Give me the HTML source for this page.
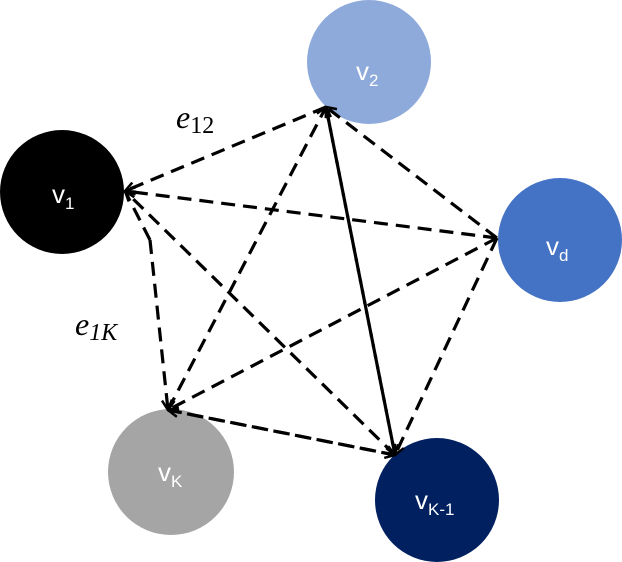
<!DOCTYPE html>
<html><head><style>body{margin:0;background:#fff}svg{display:block}</style></head><body>
<svg width="622" height="562" viewBox="0 0 622 562" xmlns="http://www.w3.org/2000/svg">
<defs><marker id="a" viewBox="0 0 12 12" refX="11" refY="6" markerWidth="12" markerHeight="12" markerUnits="userSpaceOnUse" orient="auto"><path d="M1,1 L11,6 L1,11" fill="none" stroke="#000" stroke-width="2.5"/></marker></defs>
<circle cx="62" cy="192" r="62" fill="#000"/>
<circle cx="369" cy="62" r="62" fill="#8eaadb"/>
<circle cx="560" cy="240" r="62" fill="#4472c4"/>
<circle cx="171" cy="472" r="63" fill="#a5a5a5"/>
<circle cx="437" cy="500" r="62" fill="#002060"/>
<g stroke="#000" stroke-width="3.2" stroke-dasharray="14 8" fill="none">
<line x1="326" y1="107" x2="125" y2="191" marker-end="url(#a)"/>
<line x1="497" y1="238" x2="125" y2="191" marker-end="url(#a)"/>
<line x1="395" y1="455" x2="125" y2="191" marker-end="url(#a)"/>
<line x1="150" y1="240" x2="168" y2="410" marker-end="url(#a)"/>
<line x1="150" y1="240" x2="125" y2="191"/>
<line x1="497" y1="238" x2="326" y2="107" marker-end="url(#a)"/>
<line x1="395" y1="455" x2="326" y2="107"/>
<line x1="168" y1="410" x2="326" y2="107" marker-end="url(#a)"/>
<line x1="497" y1="238" x2="168" y2="410" marker-end="url(#a)"/>
<line x1="497" y1="238" x2="395" y2="455" marker-end="url(#a)"/>
<line x1="326" y1="107" x2="395" y2="455" marker-end="url(#a)"/>
<line x1="168" y1="410" x2="395" y2="455" marker-end="url(#a)"/>
<line x1="395" y1="455" x2="168" y2="410" marker-end="url(#a)"/>
</g>
<g fill="#fff" font-family="Liberation Sans, sans-serif">
<text x="52" y="203" font-size="26">v<tspan font-size="17" dy="6">1</tspan></text>
<text x="356" y="80" font-size="26">v<tspan font-size="17" dy="6">2</tspan></text>
<text x="546" y="255" font-size="26">v<tspan font-size="17" dy="6">d</tspan></text>
<text x="158" y="481" font-size="26">v<tspan font-size="17" dy="6">K</tspan></text>
<text x="415" y="509" font-size="26">v<tspan font-size="17" dy="6">K-1</tspan></text>
</g>
<g fill="#000" font-family="Liberation Serif, serif" font-style="italic">
<text x="176" y="128" font-size="32">e<tspan font-style="normal" font-size="24" dy="5">12</tspan></text>
<text x="75" y="335" font-size="32">e<tspan font-size="24" dy="5">1K</tspan></text>
</g>
</svg>
</body></html>
